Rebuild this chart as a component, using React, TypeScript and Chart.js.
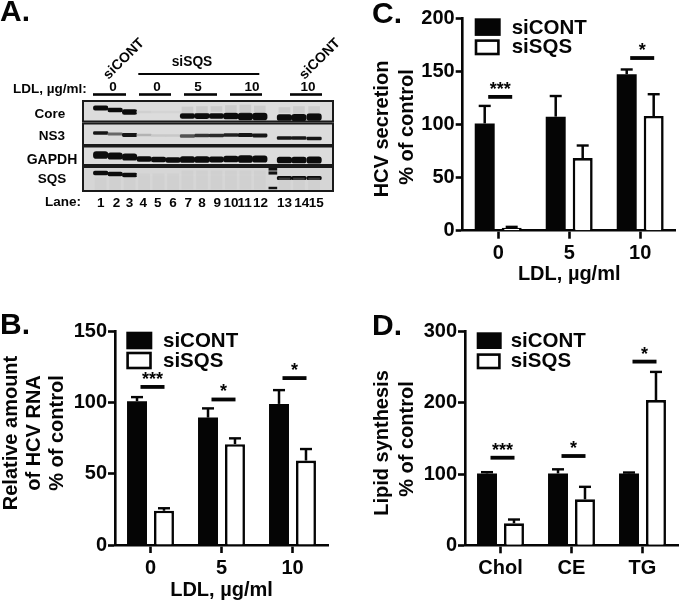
import React, { useEffect, useRef } from "react";
import { Chart, registerables } from "chart.js";

Chart.register(...registerables);

const FONT = '"Liberation Sans", Arial, sans-serif';
const BLACK = "#050505";

// ---------- data: bar panels ----------
const doseCategories = ["0", "5", "10"];
const lipidCategories = ["Chol", "CE", "TG"];
const seriesNames = ["siCONT", "siSQS"];

const rnaCont = [100.8, 89.3, 98.9];
const rnaContUpper = [103.8, 95.9, 108.7];
const rnaSqs = [24, 70.7, 59.2];
const rnaSqsUpper = [25.9, 74.9, 67.4];
const rnaSigLevel = [110.8, 102, 117];
const rnaSigMark = ["***", "*", "*"];

const secCont = [101, 107.4, 147.3];
const secContUpper = [117.7, 127, 152];
const secSqs = [2.8, 68.4, 108];
const secSqsUpper = [3.8, 80.4, 128.7];
const secSigLevel = [126, null, 162.6];
const secSigMark = ["***", "", "*"];

const lipCont = [101, 101, 101];
const lipContUpper = [103, 107, 102.5];
const lipSqs = [30.9, 64.6, 204];
const lipSqsUpper = [36.5, 82.4, 243.8];
const lipSigLevel = [123, 125.4, 258];
const lipSigMark = ["***", "*", "*"];

// ---------- data: blot ----------
const laneLabels = ["1", "2", "3", "4", "5", "6", "7", "8", "9", "10", "11", "12", "13", "14", "15"];
const lanePlace = [1, 2, 3, 4, 5, 6, 7, 8, 9, 10, 11, 12, 13.7, 14.7, 15.75];
const laneLabelPlace = [1, 2.1, 3, 3.95, 4.95, 6, 7.05, 8, 9.05, 10, 10.95, 12.05, 13.7, 14.9, 15.9];
const blotRowNames = ["Core", "NS3", "GAPDH", "SQS"];

const coreMigration = [8, 10, 12, 12, 12, 12, 16, 16, 16, 16, 16.5, 16.5, 17.5, 17.5, 17];
const coreDensity = [1, 1, 1, 0.04, 0.02, 0.02, 1, 1, 1, 1, 1, 1, 1, 1, 1];
const coreBandSize = [4.5, 4, 5, 2, 2, 2, 5, 5.5, 5, 6, 7, 7, 6, 6.5, 7];

const ns3Migration = [33, 34, 35, 35, 35.5, 35.5, 36, 35.5, 35.5, 35, 35, 35.5, 38, 38, 38.5];
const ns3Density = [0.95, 0.55, 0.95, 0.18, 0.08, 0.08, 0.65, 0.8, 0.85, 0.9, 0.95, 0.95, 0.95, 0.95, 0.95];
const ns3BandSize = [3, 2.5, 3.2, 2, 2, 2, 2.6, 2.8, 2.8, 3, 3.4, 3.2, 3, 3, 3];

const gapdhMigration = [55, 56, 57, 59, 59.5, 60, 59.5, 59.5, 59.5, 59, 59, 59, 60, 60, 60];
const gapdhDensity = [1, 1, 1, 1, 1, 1, 1, 1, 1, 1, 1, 1, 1, 1, 1];
const gapdhBandSize = [7, 6.5, 6.5, 5, 5, 5, 6, 6, 5.5, 6, 7, 6.5, 6, 6, 6.5];

const sqsMigration = [73, 74, 75, 75, 75, 75, 75, 75, 75, 75, 75, 75, 78, 78, 78];
const sqsDensity = [1, 1, 1, 0, 0, 0, 0, 0, 0, 0, 0, 0, 1, 1, 1];
const sqsBandSize = [4, 4, 4, 1, 1, 1, 1, 1, 1, 1, 1, 1, 3.5, 3.5, 3.5];

const haloMigration = [84, 84, 84, 82, 82, 82, 80, 80, 80, 80, 80, 80, 84, 84, 84];
const haloSize = [12, 12, 12, 16, 16, 16, 18, 18, 18, 18, 18, 18, 12, 12, 12];
const upperHaloMigration = [0, 0, 0, 0, 0, 0, 10, 10, 9, 9, 9, 9, 10, 10, 10];
const upperHaloSize = [0, 0, 0, 0, 0, 0, 6, 7, 5, 7, 8, 6, 5, 7, 7];

const markerPlace = 12.9;
const markerMigration = [69, 73, 88];
const markerSize = [2.5, 2.5, 1.8];

const rowEdges = [[1, 21.5], [23.5, 45], [46.5, 65], [67, 91]];

// ---------- helpers ----------
type Txt = { t: string; x: number; y: number; size: number; rot?: number; align?: CanvasTextAlign };
type Rect = { x: number; y: number; w: number; h: number };

function drawText(ctx: CanvasRenderingContext2D, items: Txt[]) {
  items.forEach((i) => {
    ctx.save();
    ctx.translate(i.x, i.y);
    if (i.rot) ctx.rotate((i.rot * Math.PI) / 180);
    ctx.font = `bold ${i.size}px ${FONT}`;
    ctx.fillStyle = BLACK;
    ctx.textAlign = i.align || "center";
    ctx.textBaseline = "middle";
    ctx.fillText(i.t, 0, 0);
    ctx.restore();
  });
}

const gray = (density: number) => {
  const base = 216;
  const v = Math.round(base + (12 - base) * density);
  return `rgb(${v},${v},${v})`;
};

const barsOf = (mid: number[], size: number[]) =>
  lanePlace.map((x, i) => ({ x, y: [mid[i] - size[i] / 2, mid[i] + size[i] / 2] }));

type BarPanel = {
  cats: string[];
  cont: number[];
  contUpper: number[];
  sqs: number[];
  sqsUpper: number[];
  max: number;
  step: number;
  left: number;
  top: number;
  bottom: number;
  scaleEnd: number;
  sigLevel: (number | null)[];
  sigMark: string[];
  xTitle?: string;
  texts: Txt[];
  swatches: [Rect, Rect];
  legendX: number;
  legendY: [number, number];
};

function makeBarChart(canvas: HTMLCanvasElement, p: BarPanel) {
  const overlay = {
    id: "panelOverlay",
    afterDatasetsDraw(chart: any) {
      const { ctx, scales } = chart;
      const y = scales.y;
      const x = scales.x;
      // error bars (upper arm only)
      chart.data.datasets.forEach((ds: any, di: number) => {
        chart.getDatasetMeta(di).data.forEach((bar: any, i: number) => {
          const top = y.getPixelForValue(ds.upper[i]);
          const from = y.getPixelForValue(ds.data[i]);
          ctx.fillStyle = BLACK;
          ctx.fillRect(bar.x - 1.25, top, 2.5, from - top);
          ctx.fillRect(bar.x - 6, top - 1, 12, 2.4);
        });
      });
      // significance lines
      p.sigLevel.forEach((lvl, i) => {
        if (lvl === null) return;
        const cx = x.getPixelForValue(i) + 2;
        const py = y.getPixelForValue(lvl);
        ctx.fillStyle = BLACK;
        ctx.fillRect(cx - 12, py - 1.9, 24, 3.8);
        drawText(ctx, [{ t: p.sigMark[i], x: cx, y: py - 7, size: 18 }]);
      });
      // legend
      ctx.fillStyle = BLACK;
      const [a, b] = p.swatches;
      ctx.fillRect(a.x, a.y, a.w, a.h);
      ctx.fillStyle = "#fff";
      ctx.fillRect(b.x, b.y, b.w, b.h);
      ctx.strokeStyle = BLACK;
      ctx.lineWidth = 2.6;
      ctx.strokeRect(b.x + 1.3, b.y + 1.3, b.w - 2.6, b.h - 2.6);
      drawText(ctx, [
        { t: seriesNames[0], x: p.legendX, y: p.legendY[0], size: 20.5, align: "left" },
        { t: seriesNames[1], x: p.legendX, y: p.legendY[1], size: 20.5, align: "left" },
      ]);
      drawText(ctx, p.texts);
    },
  };

  return new Chart(canvas, {
    type: "bar",
    data: {
      labels: p.cats,
      datasets: [
        {
          label: seriesNames[0],
          data: p.cont,
          upper: p.contUpper,
          backgroundColor: BLACK,
          borderColor: BLACK,
          borderWidth: 0,
        } as any,
        {
          label: seriesNames[1],
          data: p.sqs,
          upper: p.sqsUpper,
          backgroundColor: "#fff",
          borderColor: BLACK,
          borderWidth: 2.6,
        } as any,
      ],
    },
    options: {
      responsive: false,
      devicePixelRatio: 1,
      animation: false,
      layout: { padding: { top: p.top, right: 680 - p.left - 213, left: 0, bottom: 602 - p.scaleEnd } },
      plugins: { legend: { display: false }, tooltip: { enabled: false } },
      datasets: { bar: { categoryPercentage: 0.76, barPercentage: 0.74 } },
      scales: {
        x: {
          afterFit(s: any) {
            s.height = p.scaleEnd - p.bottom;
          },
          grid: { offset: false, drawOnChartArea: false, tickLength: 8, tickWidth: 2.6, tickColor: BLACK },
          border: { color: BLACK, width: 2.6 },
          ticks: { color: BLACK, font: { family: FONT, size: 20, weight: "bold" }, padding: 3, maxRotation: 0 },
          title: {
            display: !!p.xTitle,
            text: p.xTitle || "",
            color: BLACK,
            font: { family: FONT, size: 20, weight: "bold" },
            padding: { top: 0, bottom: 0 },
          },
        },
        y: {
          min: 0,
          max: p.max,
          afterFit(s: any) {
            s.width = p.left;
          },
          ticks: { stepSize: p.step, color: BLACK, font: { family: FONT, size: 20, weight: "bold" }, padding: 1 },
          grid: { drawOnChartArea: false, tickLength: 7, tickWidth: 2.6, tickColor: BLACK },
          border: { color: BLACK, width: 2.6 },
        },
      },
    } as any,
    plugins: [overlay],
  });
}

function makeBlot(canvas: HTMLCanvasElement) {
  const under = {
    id: "blotFrames",
    beforeDatasetsDraw(chart: any) {
      const { ctx, chartArea, scales } = chart;
      const y = scales.y;
      ctx.fillStyle = "#fff";
      ctx.fillRect(chartArea.left, chartArea.top, chartArea.width, chartArea.height);
      rowEdges.forEach(([a, b], i) => {
        const t = y.getPixelForValue(a);
        const h = y.getPixelForValue(b) - t;
        ctx.fillStyle = i === 3 ? "#d6d6d6" : "#dcdcdc";
        ctx.fillRect(chartArea.left, t, chartArea.width, h);
      });
    },
    afterDatasetsDraw(chart: any) {
      const { ctx, chartArea, scales } = chart;
      const y = scales.y;
      ctx.strokeStyle = "#1a1a1a";
      ctx.lineWidth = 2;
      rowEdges.forEach(([a, b]) => {
        const t = y.getPixelForValue(a);
        const h = y.getPixelForValue(b) - t;
        ctx.strokeRect(chartArea.left, t, chartArea.width, h);
      });
      ctx.fillStyle = BLACK;
      const lines: number[][] = [
        [138.3, 74, 121, 2],
        [93, 94.5, 33, 2.6],
        [139, 94.5, 32, 2.6],
        [184, 94.5, 33, 2.6],
        [230, 94.5, 32, 2.6],
        [290, 94.5, 32, 2.6],
      ];
      lines.forEach(([lx, ly, w, h]) => ctx.fillRect(lx, ly - h / 2, w, h));
      drawText(ctx, [
        { t: "A.", x: 0, y: 13, size: 30, align: "left" },
        { t: "siCONT", x: 124, y: 59, size: 14, rot: -45 },
        { t: "siCONT", x: 320, y: 59, size: 14, rot: -45 },
        { t: "siSQS", x: 192, y: 62, size: 13.8 },
        { t: "LDL, µg/ml:", x: 13, y: 89, size: 13.5, align: "left" },
        { t: "0", x: 113, y: 87, size: 13.5 },
        { t: "0", x: 157, y: 87, size: 13.5 },
        { t: "5", x: 198, y: 87, size: 13.5 },
        { t: "10", x: 252, y: 87, size: 13.5 },
        { t: "10", x: 308, y: 87, size: 13.5 },
        { t: blotRowNames[0], x: 50, y: 114, size: 13.5 },
        { t: blotRowNames[1], x: 52, y: 136, size: 13.5 },
        { t: blotRowNames[2], x: 52, y: 160, size: 14 },
        { t: blotRowNames[3], x: 52, y: 179, size: 13.5 },
        { t: "Lane:", x: 45, y: 202, size: 13.5, align: "left" },
      ]);
    },
  };

  const band = (label: string, mid: number[], size: number[], density: number[]) => ({
    label,
    data: barsOf(mid, size),
    backgroundColor: density.map(gray),
    borderWidth: 0,
    borderRadius: (c: any) => size[c.dataIndex] * 0.45,
    borderSkipped: false,
    barThickness: 14.5,
    grouped: false,
  });

  const faint = (label: string, mid: number[], size: number[], color: string) => ({
    label,
    data: barsOf(mid, size),
    backgroundColor: color,
    borderWidth: 0,
    barThickness: 11,
    grouped: false,
  });

  return new Chart(canvas, {
    type: "bar",
    data: {
      datasets: [
        faint("lower haze", haloMigration, haloSize, "rgba(190,190,190,0.25)"),
        faint("upper haze", upperHaloMigration, upperHaloSize, "rgba(170,170,170,0.3)"),
        band(blotRowNames[0], coreMigration, coreBandSize, coreDensity),
        band(blotRowNames[1], ns3Migration, ns3BandSize, ns3Density),
        band(blotRowNames[2], gapdhMigration, gapdhBandSize, gapdhDensity),
        band(blotRowNames[3], sqsMigration, sqsBandSize, sqsDensity),
        {
          label: "ladder",
          data: markerMigration.map((m, i) => ({ x: markerPlace, y: [m - markerSize[i] / 2, m + markerSize[i] / 2] })),
          backgroundColor: "#111",
          borderWidth: 0,
          barThickness: 8,
          grouped: false,
        },
      ] as any,
    },
    options: {
      responsive: false,
      devicePixelRatio: 1,
      animation: false,
      layout: { padding: { top: 100, right: 680 - 333, left: 83, bottom: 0 } },
      plugins: { legend: { display: false }, tooltip: { enabled: false } },
      scales: {
        x: {
          type: "linear",
          min: 0.355,
          max: 16.48,
          afterBuildTicks(s: any) {
            s.ticks = laneLabelPlace.map((value) => ({ value }));
          },
          afterFit(s: any) {
            s.height = 602 - 192;
          },
          grid: { display: false, drawTicks: false },
          border: { display: false },
          ticks: {
            autoSkip: false,
            maxRotation: 0,
            color: BLACK,
            padding: 3,
            font: { family: FONT, size: 13.5, weight: "bold" },
            callback: (_v: any, i: number) => laneLabels[i],
          },
        },
        y: { display: false, reverse: true, min: 0, max: 92 },
      },
    } as any,
    plugins: [under],
  });
}

const panels: BarPanel[] = [
  {
    cats: doseCategories,
    cont: rnaCont,
    contUpper: rnaContUpper,
    sqs: rnaSqs,
    sqsUpper: rnaSqsUpper,
    max: 150,
    step: 50,
    left: 115,
    top: 331,
    bottom: 545,
    scaleEnd: 602,
    sigLevel: rnaSigLevel,
    sigMark: rnaSigMark,
    xTitle: "LDL, µg/ml",
    swatches: [
      { x: 126.3, y: 331.7, w: 26, h: 17.6 },
      { x: 126.3, y: 351.7, w: 25.5, h: 17.6 },
    ],
    legendX: 163,
    legendY: [341.7, 361.7],
    texts: [
      { t: "B.", x: 0, y: 326, size: 30, align: "left" },
      { t: "Relative amount", x: 11, y: 433, size: 20, rot: -90 },
      { t: "of HCV RNA", x: 34, y: 433, size: 20, rot: -90 },
      { t: "% of control", x: 57, y: 433, size: 20, rot: -90 },
    ],
  },
  {
    cats: doseCategories,
    cont: secCont,
    contUpper: secContUpper,
    sqs: secSqs,
    sqsUpper: secSqsUpper,
    max: 200,
    step: 50,
    left: 462.7,
    top: 18.3,
    bottom: 230.7,
    scaleEnd: 286,
    sigLevel: secSigLevel,
    sigMark: secSigMark,
    xTitle: "LDL, µg/ml",
    swatches: [
      { x: 474.7, y: 18.3, w: 26, h: 17.6 },
      { x: 474.7, y: 39.3, w: 25, h: 16 },
    ],
    legendX: 511.7,
    legendY: [28.3, 47.7],
    texts: [
      { t: "C.", x: 372, y: 15, size: 30, align: "left" },
      { t: "HCV secretion", x: 382, y: 129, size: 20, rot: -90 },
      { t: "% of control", x: 407, y: 127, size: 20, rot: -90 },
    ],
  },
  {
    cats: lipidCategories,
    cont: lipCont,
    contUpper: lipContUpper,
    sqs: lipSqs,
    sqsUpper: lipSqsUpper,
    max: 300,
    step: 100,
    left: 465,
    top: 331.7,
    bottom: 545.3,
    scaleEnd: 602,
    sigLevel: lipSigLevel,
    sigMark: lipSigMark,
    swatches: [
      { x: 476.7, y: 332.3, w: 25, h: 16.7 },
      { x: 476.7, y: 353.3, w: 24, h: 16 },
    ],
    legendX: 510.7,
    legendY: [341, 361],
    texts: [
      { t: "D.", x: 372, y: 327, size: 30, align: "left" },
      { t: "Lipid synthesis", x: 382, y: 443, size: 20, rot: -90 },
      { t: "% of control", x: 407, y: 439, size: 20, rot: -90 },
    ],
  },
];

const canvasStyle: React.CSSProperties = {
  position: "absolute",
  left: 0,
  top: 0,
  width: 680,
  height: 602,
  display: "block",
  filter: "blur(0.4px)",
};

export default function App() {
  const blotRef = useRef<HTMLCanvasElement>(null);
  const r0 = useRef<HTMLCanvasElement>(null);
  const r1 = useRef<HTMLCanvasElement>(null);
  const r2 = useRef<HTMLCanvasElement>(null);

  useEffect(() => {
    const charts = [
      makeBlot(blotRef.current!),
      makeBarChart(r0.current!, panels[0]),
      makeBarChart(r1.current!, panels[1]),
      makeBarChart(r2.current!, panels[2]),
    ];
    return () => charts.forEach((c) => c.destroy());
  }, []);

  return (
    <div style={{ position: "fixed", left: 0, top: 0, width: 680, height: 602, background: "#fff", overflow: "hidden" }}>
      <canvas ref={blotRef} width={680} height={602} style={{ ...canvasStyle, filter: "blur(0.6px)" }} />
      <canvas ref={r0} width={680} height={602} style={canvasStyle} />
      <canvas ref={r1} width={680} height={602} style={canvasStyle} />
      <canvas ref={r2} width={680} height={602} style={canvasStyle} />
    </div>
  );
}
